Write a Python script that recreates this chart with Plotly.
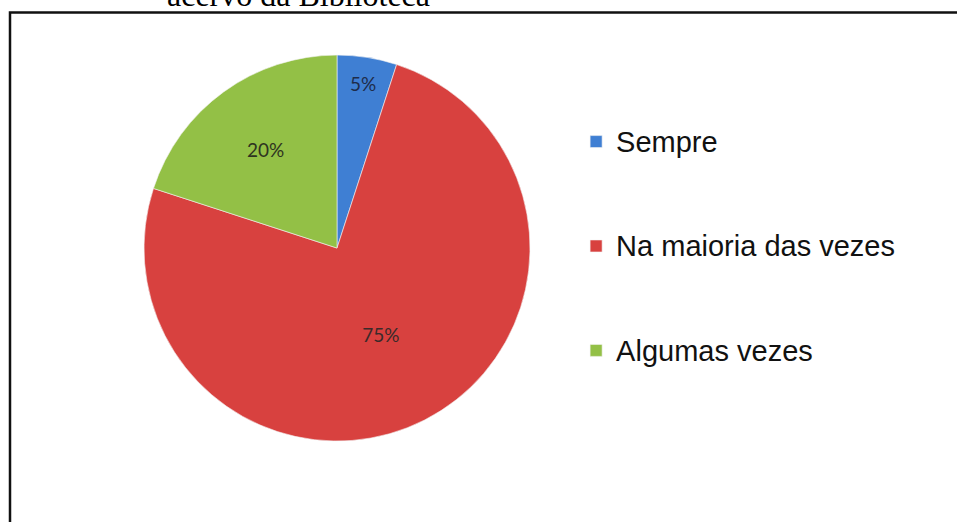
import plotly.graph_objects as go

labels = ['Sempre', 'Na maioria das vezes', 'Algumas vezes']
values = [5, 75, 20]
colors = ['#3f7fd3', '#d8413f', '#93c046']
text_colors = ['#1e2c4a', '#3a2a2a', '#2e3320']
caption = 'acervo da Biblioteca'

# padded names so the legend entries get the tall spacing of the original
legend_names = [' <br><span style="font-size:29px">' + l + '</span><br> ' for l in labels]

fig = go.Figure(
    data=[
        go.Pie(labels=legend_names, values=values,
               sort=False, direction='clockwise', rotation=0,
               marker=dict(colors=colors, line=dict(color='#f4f4f4', width=0.6)),
               textinfo='percent', texttemplate='%{percent:.0%}',
               textposition='inside', insidetextorientation='horizontal',
               insidetextfont=dict(family='Lato', size=19, color=text_colors),
               hovertemplate='%{customdata}: %{percent:.0%}<extra></extra>',
               customdata=labels,
               domain=dict(x=[0.1505, 0.5538], y=[0.155, 0.8946]))
    ]
)

fig.update_layout(
    width=957, height=522,
    margin=dict(l=0, r=0, t=0, b=0),
    paper_bgcolor='white',
    plot_bgcolor='white',
    legend=dict(x=0.602, y=0.528, xanchor='left', yanchor='middle',
                font=dict(family='Liberation Sans', size=26, color='#111111'),
                itemwidth=30, bgcolor='rgba(0,0,0,0)'),
    shapes=[dict(type='rect', xref='paper', yref='paper',
                 x0=10/957, x1=1.02, y0=-0.05, y1=1 - 12.5/522,
                 line=dict(color='#111111', width=2.5))],
    annotations=[dict(text=caption, xref='paper', yref='paper',
                      x=165/957, y=1 - 15/522, xanchor='left', yanchor='bottom',
                      showarrow=False,
                      font=dict(family='Liberation Serif', size=32, color='#000000'))]
)

# the reference is a crop starting at the page edge: drop the browser's body margin
fig.write_html("out.html", config={'displayModeBar': False},
               post_script="document.body.style.margin='0';")
